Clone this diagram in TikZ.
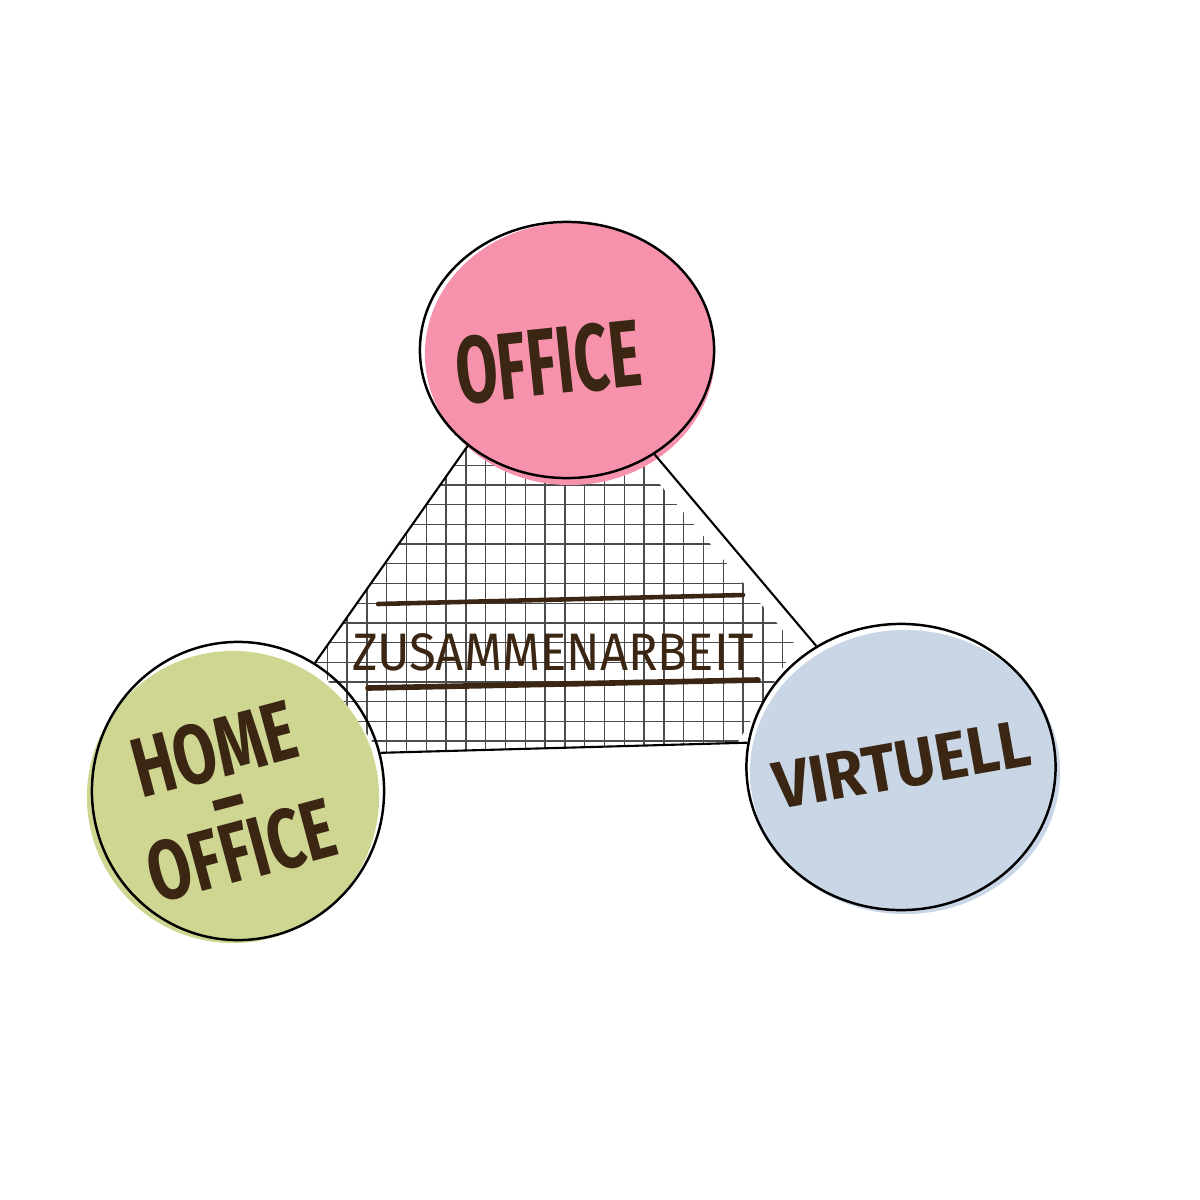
\documentclass[tikz,border=0pt]{standalone}
\usepackage{fontspec}
\setmainfont{Fira Sans}
\usetikzlibrary{shapes.geometric, backgrounds}
\definecolor{ink}{HTML}{3A2612}
\definecolor{officepink}{HTML}{F792AD}
\definecolor{homegreen}{HTML}{CFD692}
\definecolor{virtblue}{HTML}{C8D6E5}
\newcommand\tightskip{\lineskiplimit=-100pt\relax}

\begin{document}
\begin{tikzpicture}[
    x=0.01cm, y=-0.01cm,
    spot/.style={ellipse, draw=black, line width=0.7pt, inner sep=0pt},
    hand/.style={text=ink, transform shape, inner sep=0pt},
    side/.style={draw=black, line width=0.6pt},
    gridline/.style={draw=black!70, line width=0.35pt},
    bar/.style={draw=ink, line cap=round, line width=#1}
]
   \useasboundingbox (0,0) rectangle (1200,1200);

   % Places
   \node[spot, minimum width=2.94cm, minimum height=2.56cm] (office) at (567,350) {};
   \node[spot, minimum width=2.92cm, minimum height=2.98cm] (home) at (238,791) {};
   \node[spot, minimum width=3.09cm, minimum height=2.86cm] (virt) at (901,767) {};

   % Colour and grid behind
   \begin{scope}[on background layer]
     \begin{scope}
       \clip (office.224) -- (home.59) -- (home.15) -- ([xshift=-1mm]virt.171)
             -- ([xshift=-2mm]virt.125) -- ([xshift=-2mm]office.310) -- cycle;
       \foreach \k in {0,...,26}
         \draw[gridline] (307.5+\k*19.8, 430) -- (307.5+\k*19.8, 770);
       \foreach \k in {0,...,16}
         \draw[gridline] (300, 445.6+\k*19.7) -- (840, 445.6+\k*19.7);
     \end{scope}
     \fill[officepink] (570,354) ellipse [x radius=1.45cm, y radius=1.31cm];
     \fill[homegreen] (233,797) ellipse [x radius=1.46cm, y radius=1.46cm];
     \fill[virtblue] (905,772) ellipse [x radius=1.55cm, y radius=1.42cm];
   \end{scope}

   % Links
   \draw[side] (office.224) -- (home.59);
   \draw[side] (home.15) -- (virt.171);
   \draw[side] (virt.125) -- (office.310);

   % Labels
   \node[hand, rotate=6, xscale=0.64, font=\bfseries\fontsize{27}{30}\selectfont] (officetxt) at (548,362) {OFFICE};
   \node[hand, rotate=15, xscale=0.74, align=center,
         font=\bfseries\fontsize{24}{15}\selectfont\tightskip] (hometxt) at (228,800) {HOME\\\textendash\hspace*{0.7em}\\OFFICE};
   \node[hand, rotate=10, xscale=0.92, font=\bfseries\fontsize{19}{22}\selectfont] (virttxt) at (902,765) {VIRTUELL};
   \node[hand, xscale=0.93, font=\fontsize{15}{18}\selectfont] (together) at (553,652) {ZUSAMMENARBEIT};
   \draw[bar=1.3pt] (378,604) -- (743,595);
   \draw[bar=1.6pt] (368,688) -- (758,680);
\end{tikzpicture}
\end{document}
